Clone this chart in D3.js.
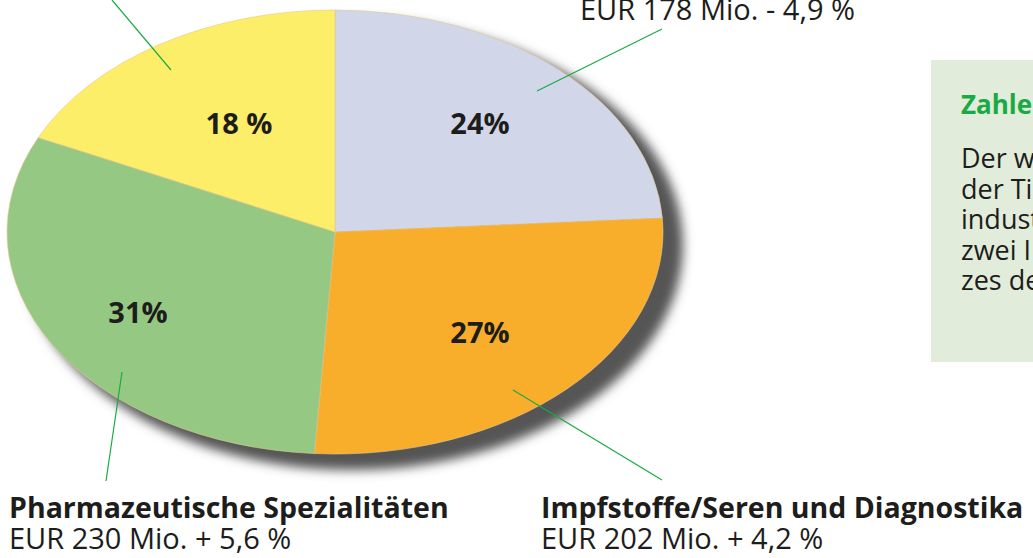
<!DOCTYPE html>
<html><head><meta charset="utf-8">
<script src="https://cdn.jsdelivr.net/npm/d3@7"></script>
<style>
body{margin:0;background:#fff;}
svg{display:block;font-family:"Open Sans",sans-serif;}
</style></head>
<body><svg id="c" width="1033" height="558"></svg>
<script>
const categories = ["Sonstige_grau","Impfstoffe/Seren und Diagnostika","Pharmazeutische Spezialitäten","Sonstige_gelb"];
const shares = [24, 27, 31, 18];
const shareLabels = ["24%", "27%", "31%", "18 %"];
const colors = ["#d2d6e9", "#f8ae2a", "#95c983", "#fdee6a"];
const titles = [null, "Impfstoffe/Seren und Diagnostika", "Pharmazeutische Spezialitäten", null];
const amounts = ["EUR 178 Mio. - 4,9 %", "EUR 202 Mio. + 4,2 %", "EUR 230 Mio. + 5,6 %", null];
const boxTitle = "Zahle";
const boxLines = ["Der w", "der Ti", "indust", "zwei I", "zes de"];

const svg = d3.select("#c");
const cx = 335, cy = 232, rx = 328, ry = 222;
const ky = ry / rx;

const defs = svg.append("defs");
const f = defs.append("filter").attr("id","blur").attr("x","-20%").attr("y","-20%").attr("width","140%").attr("height","140%");
f.append("feGaussianBlur").attr("stdDeviation", 5.5);

// shadow
svg.append("ellipse").attr("cx", cx + 17).attr("cy", cy + 13).attr("rx", rx + 3).attr("ry", ry + 3)
  .attr("fill", "#555").attr("filter", "url(#blur)");

const pie = d3.pie().sort(null).value(d => d);
const arcs = pie(shares);
const arc = d3.arc().innerRadius(0).outerRadius(rx);

const g = svg.append("g").attr("transform", `translate(${cx},${cy}) scale(1,${ky})`);
g.selectAll("path").data(arcs).join("path")
  .attr("d", arc).attr("fill", (d,i) => colors[i])
  .attr("stroke", "#e8c890").attr("stroke-width", 0.6).attr("vector-effect","non-scaling-stroke");

// percent labels
const pctPos = [[480,134],[480,343],[138,323],[239,134]];
svg.selectAll("text.pct").data(shareLabels).join("text").attr("class","pct")
  .attr("x", (d,i) => pctPos[i][0]).attr("y", (d,i) => pctPos[i][1])
  .attr("text-anchor","middle").attr("font-weight","bold").attr("font-size", 29)
  .attr("fill","#1d1d1b").text(d => d);

// leader lines
const leaders = [[[537,91],[662,29]], [[513,390],[662,480]], [[122,372],[106,481]], [[171,70],[112,0]]];
svg.selectAll("line.lead").data(leaders).join("line").attr("class","lead")
  .attr("x1", d => d[0][0]).attr("y1", d => d[0][1]).attr("x2", d => d[1][0]).attr("y2", d => d[1][1])
  .attr("stroke", "#1aaa45").attr("stroke-width", 1.2);

// category labels
const labPos = [[580,20],[541,518],[9,518],null];
arcs.forEach((a,i) => {
  if (!labPos[i]) return;
  const [x,y] = labPos[i];
  if (titles[i]) svg.append("text").attr("x", x).attr("y", y).attr("font-weight","bold").attr("font-size", 28.5).attr("fill","#1d1d1b").text(titles[i]);
  if (amounts[i]) svg.append("text").attr("x", x).attr("y", titles[i] ? y + 31 : y).attr("font-size", 29).attr("fill","#1d1d1b").text(amounts[i]);
});

// info box
svg.append("rect").attr("x", 931).attr("y", 60).attr("width", 120).attr("height", 302).attr("fill", "#e1ecda");
svg.append("text").attr("x", 961).attr("y", 114).attr("font-weight","bold").attr("font-size", 26).attr("fill","#1aaa45").text(boxTitle);
svg.selectAll("text.body").data(boxLines).join("text").attr("class","body")
  .attr("x", 961).attr("y", (d,i) => 168 + i * 30.5).attr("font-size", 27).attr("fill","#1d1d1b").text(d => d);
</script></body></html>
